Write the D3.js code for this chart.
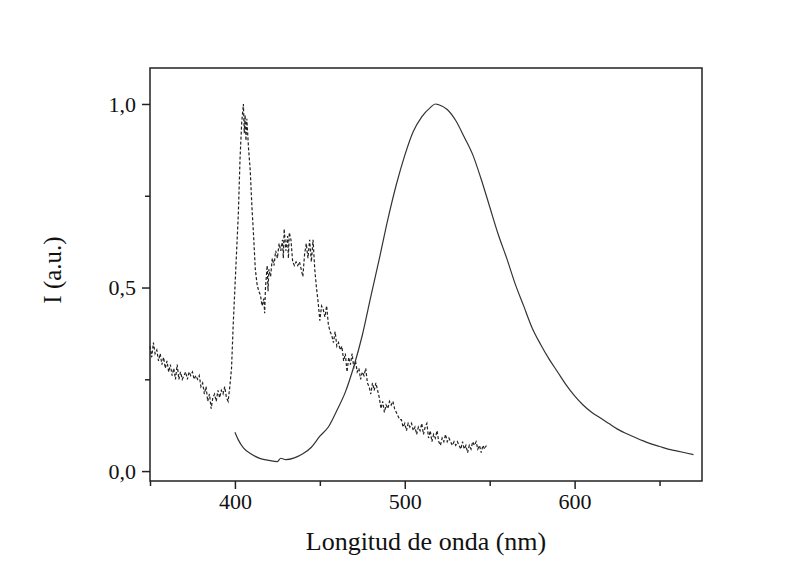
<!DOCTYPE html>
<html>
<head>
<meta charset="utf-8">
<script src="https://cdn.jsdelivr.net/npm/d3@7"></script>
<style>
  body { margin: 0; background: #fff; }
  svg { display: block; }
  text { font-family: "Liberation Serif", "Times New Roman", serif; fill: #111; }
</style>
</head>
<body>
<div id="chart"></div>
<script>
// espectro de excitacion (linea discontinua)
const exWavelength = [350,351,352,353,354,355,356,357,358,359,360,361,362,363,364,365,366,367,368,369,
  370,371,372,373,374,375,376,377,378,379,380,381,382,383,384,385,386,387,388,389,
  390,391,392,393,394,395,396,397,398,399,400,401,402,403,404,405,405.5,406,406.5,407,
  408,409,410,411,412,413,414,415,416,417,417.5,418,419,419.5,420,421,422,423,424,425,
  426,427,428,428.5,429,430,431,431.5,432,433,434,435,436,437,438,439,440,441,442,443,
  444,445,446,447,448,449,450,451,452,453,454,455,456,457,458,459,460,461,462,463,
  464,465,466,467,468,469,470,471,472,473,474,475,476,477,478,479,480,481,482,483,
  484,485,486,487,488,489,490,491,492,493,494,495,496,497,498,499,500,501,502,503,
  504,505,506,507,508,509,510,511,512,513,514,515,516,517,518,519,520,521,522,523,
  524,525,526,527,528,529,530,531,532,533,534,535,536,537,538,539,540,541,542,543,
  544,545,546,547,548];
const exIntensity = [0.34,0.31,0.35,0.32,0.33,0.30,0.32,0.29,0.31,0.28,0.30,0.27,0.29,0.26,0.28,0.25,0.29,0.25,0.27,0.25,
  0.26,0.27,0.25,0.27,0.26,0.27,0.25,0.26,0.25,0.26,0.23,0.24,0.21,0.23,0.19,0.21,0.17,0.20,0.21,0.19,
  0.22,0.20,0.22,0.21,0.23,0.20,0.19,0.23,0.28,0.40,0.50,0.60,0.70,0.85,0.95,1.00,0.92,0.97,0.90,0.96,
  0.88,0.82,0.72,0.64,0.55,0.51,0.49,0.48,0.45,0.47,0.43,0.50,0.56,0.49,0.55,0.53,0.58,0.56,0.60,0.58,
  0.62,0.60,0.63,0.58,0.66,0.60,0.64,0.58,0.65,0.63,0.57,0.56,0.57,0.56,0.57,0.55,0.53,0.59,0.62,0.58,
  0.63,0.57,0.63,0.55,0.50,0.46,0.41,0.45,0.44,0.42,0.45,0.40,0.38,0.37,0.35,0.38,0.34,0.35,0.33,0.34,
  0.30,0.32,0.27,0.31,0.29,0.32,0.28,0.30,0.27,0.28,0.25,0.27,0.26,0.28,0.24,0.23,0.21,0.24,0.22,0.24,
  0.22,0.20,0.17,0.19,0.16,0.18,0.17,0.19,0.18,0.19,0.17,0.16,0.15,0.14,0.14,0.12,0.13,0.11,0.13,0.12,
  0.13,0.11,0.12,0.10,0.12,0.11,0.13,0.10,0.12,0.13,0.09,0.11,0.08,0.10,0.09,0.11,0.08,0.07,0.09,0.08,
  0.10,0.08,0.09,0.08,0.07,0.08,0.07,0.08,0.07,0.06,0.08,0.06,0.07,0.05,0.07,0.06,0.08,0.07,0.08,0.06,
  0.07,0.05,0.07,0.06,0.07];

// espectro de emision (linea continua)
const emWavelength = [400,402,405,410,415,420,425,427,430,435,440,445,450,455,460,465,470,475,480,485,
  490,495,500,505,510,515,518,520,525,530,535,540,545,550,555,560,565,570,575,580,
  585,590,595,600,605,610,615,620,625,630,635,640,645,650,655,660,665,670];
const emIntensity = [0.106,0.085,0.063,0.045,0.034,0.029,0.026,0.035,0.031,0.036,0.047,0.065,0.095,0.12,0.165,0.215,0.285,0.37,0.475,0.578,
  0.685,0.78,0.86,0.925,0.965,0.99,1.0,0.998,0.985,0.955,0.91,0.862,0.795,0.72,0.645,0.58,0.51,0.45,0.39,0.345,
  0.305,0.27,0.235,0.205,0.18,0.16,0.145,0.13,0.115,0.103,0.093,0.083,0.074,0.067,0.06,0.055,0.05,0.045];

const xMajor = [400, 500, 600];
const xMinor = [350, 450, 550, 650];
const yMajor = [0, 0.5, 1.0];
const yMinor = [0.25, 0.75];

const width = 800, height = 561;
const margin = {top: 68, right: 98, bottom: 80, left: 150};
const w = width - margin.left - margin.right,
      h = height - margin.top - margin.bottom;

const svg = d3.select("#chart").append("svg")
  .attr("width", width)
  .attr("height", height);

const g = svg.append("g")
  .attr("transform", `translate(${margin.left},${margin.top})`);

const x = d3.scaleLinear().domain([350, 675]).range([0, w]);
const y = d3.scaleLinear().domain([-0.027, 1.098]).range([h, 0]);

// ejes
const fmt = d => d3.format(".1f")(d).replace(".", ",");

g.append("g")
  .attr("transform", `translate(0,${h})`)
  .call(d3.axisBottom(x).tickValues(xMajor).tickSize(8).tickPadding(4).tickFormat(d3.format("d")))
  .call(ax => ax.select(".domain").remove());
g.append("g")
  .attr("transform", `translate(0,${h})`)
  .call(d3.axisBottom(x).tickValues(xMinor).tickSize(5).tickFormat(""))
  .call(ax => ax.select(".domain").remove());

g.append("g")
  .call(d3.axisLeft(y).tickValues(yMajor).tickSize(8).tickPadding(6).tickFormat(fmt))
  .call(ax => ax.select(".domain").remove());
g.append("g")
  .call(d3.axisLeft(y).tickValues(yMinor).tickSize(5).tickFormat(""))
  .call(ax => ax.select(".domain").remove());

g.selectAll(".tick line").attr("stroke", "#222").attr("stroke-width", 1.5);
g.selectAll(".tick text").style("font-size", "22px").style("font-family", "Liberation Serif");

// marco
g.append("rect")
  .attr("width", w).attr("height", h)
  .attr("fill", "none").attr("stroke", "#222").attr("stroke-width", 1.5);

const line = d3.line()
  .x(d => x(d[0]))
  .y(d => y(d[1]));

const exData = exWavelength.map((d, i) => [d, exIntensity[i]]);
const emData = emWavelength.map((d, i) => [d, emIntensity[i]]);

g.append("path")
  .datum(exData)
  .attr("d", line)
  .attr("fill", "none")
  .attr("stroke", "#222")
  .attr("stroke-width", 1.2)
  .attr("stroke-dasharray", "3,2");

g.append("path")
  .datum(emData)
  .attr("d", d3.line().x(d => x(d[0])).y(d => y(d[1])).curve(d3.curveMonotoneX))
  .attr("fill", "none")
  .attr("stroke", "#333")
  .attr("stroke-width", 1.2);

// titulos de ejes
svg.append("text")
  .attr("x", margin.left + w / 2)
  .attr("y", 550)
  .attr("text-anchor", "middle")
  .style("font-size", "26px")
  .text("Longitud de onda (nm)");

svg.append("text")
  .attr("transform", "translate(61,270) rotate(-90)")
  .attr("text-anchor", "middle")
  .style("font-size", "25px")
  .text("I (a.u.)");
</script>
</body>
</html>
